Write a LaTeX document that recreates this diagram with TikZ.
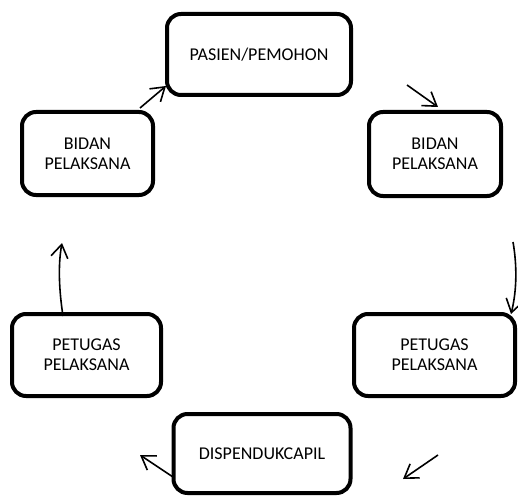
\documentclass[tikz,border=0pt]{standalone}
\usepackage{fontspec}
\setmainfont{Carlito}
\usetikzlibrary{arrows.meta}
\begin{document}
\begin{tikzpicture}[x=1pt,y=-1pt,
  box/.style={draw, line width=4pt, rounded corners=14pt, align=center,
    font=\fontsize{18}{20}\selectfont, inner sep=0pt},
  flow/.style={line width=1.6pt, -{Straight Barb[length=13pt,width=17pt,line width=1.6pt]}}]
\useasboundingbox (0,0) rectangle (518,497);
\node[box, minimum width=184pt, minimum height=81pt] (pas) at (259,54.5) {PASIEN/PEMOHON};
\node[box, minimum width=132pt, minimum height=84pt] (rb) at (435,154) {BIDAN\\PELAKSANA};
\node[box, minimum width=131pt, minimum height=83pt] (lb) at (87.5,153.5) {BIDAN\\PELAKSANA};
\node[box, minimum width=161pt, minimum height=82pt] (rp) at (434.5,355) {PETUGAS\\PELAKSANA};
\node[box, minimum width=149pt, minimum height=82pt] (lp) at (86.5,355) {PETUGAS\\PELAKSANA};
\node[box, minimum width=177pt, minimum height=79pt] (dis) at (262,453.5) {DISPENDUKCAPIL};
\coordinate (a1s) at (140,108);
\coordinate (a1e) at (166,86);
\coordinate (a2s) at (407,85);
\coordinate (a2e) at (438,107);
\coordinate (a3s) at (513,242);
\coordinate (a3e) at (511,314);
\coordinate (a4s) at (438,455);
\coordinate (a4e) at (403,479);
\coordinate (a5s) at (173,477);
\coordinate (a5e) at (140,455);
\coordinate (a6s) at (63,316);
\coordinate (a6e) at (62,243);
\draw[flow] (a1s) -- (a1e);
\draw[flow] (a2s) -- (a2e);
\draw[flow] (a3s) .. controls (517,265) and (517,290) .. (a3e);
\draw[flow] (a4s) -- (a4e);
\draw[flow] (a5s) -- (a5e);
\draw[flow] (a6s) .. controls (59,290) and (58,265) .. (a6e);
\end{tikzpicture}
\end{document}
